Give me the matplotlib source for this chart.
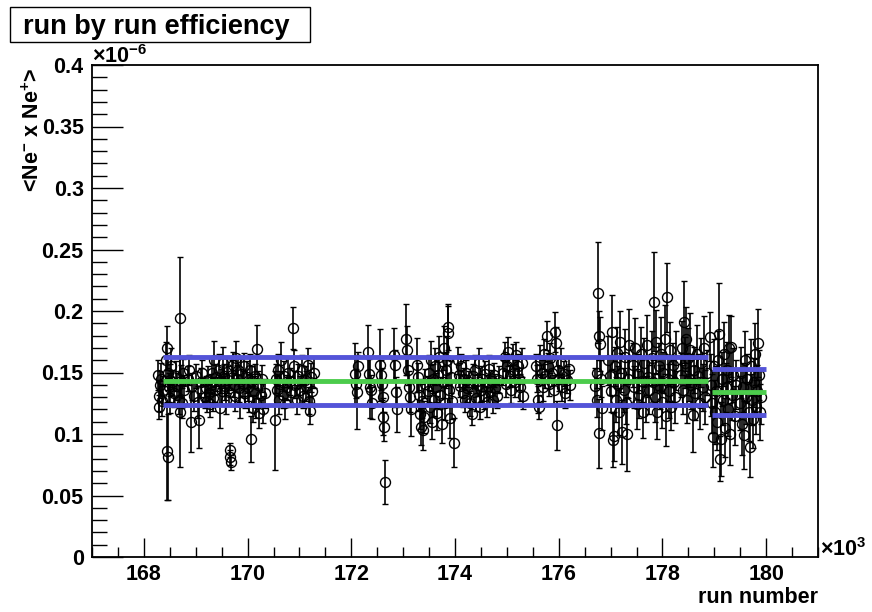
import numpy as np
import matplotlib.pyplot as plt
from matplotlib.patches import Rectangle
from matplotlib.ticker import MultipleLocator

plt.rcParams['font.family'] = ['Liberation Sans', 'DejaVu Sans']
plt.rcParams['font.weight'] = 'bold'
plt.rcParams['mathtext.fontset'] = 'custom'
plt.rcParams['mathtext.rm'] = 'Liberation Sans:bold'
plt.rcParams['mathtext.bf'] = 'Liberation Sans:bold'
plt.rcParams['mathtext.default'] = 'bf'

# run number (x10^3) , efficiency (x10^-6), error
run_a = [168.28, 168.29, 168.30, 168.31, 168.33, 168.35, 168.37, 168.42, 168.44, 168.45,
         168.46, 168.47, 168.48, 168.50, 168.51, 168.53, 168.55, 168.58, 168.62, 168.64,
         168.67, 168.69, 168.70, 168.72, 168.74, 168.76, 168.78, 168.85, 168.88, 168.91,
         168.93, 168.96, 169.00, 169.04, 169.07, 169.10, 169.13, 169.17, 169.19, 169.21,
         169.23, 169.25, 169.27, 169.29, 169.31, 169.33, 169.35, 169.37, 169.40, 169.44,
         169.46, 169.48, 169.50, 169.52, 169.54, 169.56, 169.58, 169.60, 169.62, 169.64,
         169.66, 169.67, 169.68, 169.70, 169.72, 169.74, 169.76, 169.78, 169.80, 169.82,
         169.84, 169.86, 169.88, 169.91, 169.93, 169.95, 169.98, 170.01, 170.03, 170.05,
         170.07, 170.09, 170.11, 170.13, 170.15, 170.17, 170.19, 170.21, 170.23, 170.25,
         170.27, 170.30, 170.33, 170.52, 170.54, 170.56, 170.58, 170.60, 170.63, 170.65,
         170.68, 170.70, 170.73, 170.76, 170.78, 170.81, 170.84, 170.87, 170.89, 170.92,
         170.95, 170.98, 171.01, 171.04, 171.07, 171.10, 171.13, 171.16, 171.19, 171.20,
         171.22, 171.25, 171.28]
eff_a = [0.148, 0.131, 0.122, 0.140, 0.145, 0.127, 0.136, 0.160, 0.170, 0.086,
         0.081, 0.150, 0.138, 0.144, 0.129, 0.155, 0.142, 0.133, 0.147, 0.139,
         0.128, 0.194, 0.118, 0.143, 0.125, 0.150, 0.136, 0.145, 0.152, 0.110,
         0.139, 0.131, 0.147, 0.126, 0.111, 0.142, 0.150, 0.130, 0.137, 0.127,
         0.144, 0.133, 0.124, 0.140, 0.150, 0.129, 0.160, 0.136, 0.146, 0.152,
         0.121, 0.143, 0.135, 0.158, 0.147, 0.139, 0.128, 0.153, 0.144, 0.134,
         0.087, 0.081, 0.077, 0.148, 0.156, 0.140, 0.131, 0.162, 0.145, 0.152,
         0.137, 0.126, 0.149, 0.141, 0.155, 0.133, 0.146, 0.138, 0.128, 0.152,
         0.096, 0.143, 0.121, 0.135, 0.147, 0.125, 0.169, 0.140, 0.117, 0.132,
         0.145, 0.120, 0.133, 0.111, 0.145, 0.136, 0.152, 0.128, 0.141, 0.160,
         0.132, 0.147, 0.125, 0.138, 0.150, 0.143, 0.134, 0.186, 0.155, 0.140,
         0.128, 0.147, 0.136, 0.152, 0.131, 0.144, 0.139, 0.156, 0.127, 0.119,
         0.146, 0.135, 0.150]
err_a = [0.012, 0.012, 0.010, 0.011, 0.013, 0.012, 0.011, 0.015, 0.018, 0.040,
         0.035, 0.014, 0.012, 0.013, 0.012, 0.015, 0.010, 0.011, 0.012, 0.011,
         0.012, 0.050, 0.045, 0.013, 0.012, 0.011, 0.012, 0.010, 0.012, 0.025,
         0.011, 0.012, 0.010, 0.013, 0.022, 0.012, 0.010, 0.009, 0.010, 0.009,
         0.011, 0.010, 0.010, 0.009, 0.012, 0.010, 0.016, 0.010, 0.011, 0.013,
         0.016, 0.010, 0.011, 0.013, 0.010, 0.011, 0.012, 0.010, 0.011, 0.010,
         0.006, 0.006, 0.006, 0.012, 0.011, 0.010, 0.012, 0.014, 0.011, 0.010,
         0.011, 0.013, 0.012, 0.010, 0.011, 0.012, 0.013, 0.011, 0.010, 0.013,
         0.019, 0.012, 0.011, 0.012, 0.010, 0.012, 0.020, 0.011, 0.012, 0.010,
         0.011, 0.011, 0.012, 0.040, 0.012, 0.011, 0.013, 0.012, 0.010, 0.015,
         0.011, 0.012, 0.013, 0.010, 0.012, 0.011, 0.012, 0.017, 0.013, 0.011,
         0.012, 0.010, 0.011, 0.012, 0.010, 0.011, 0.012, 0.014, 0.011, 0.011,
         0.012, 0.010, 0.013]

run_b = [172.07, 172.09, 172.11, 172.13, 172.32, 172.34, 172.36, 172.38, 172.40, 172.55,
         172.57, 172.59, 172.61, 172.62, 172.63, 172.65, 172.82, 172.84, 172.87, 172.89,
         173.05, 173.08, 173.10, 173.12, 173.14, 173.16, 173.26, 173.28, 173.30, 173.32,
         173.34, 173.36, 173.38, 173.40, 173.42, 173.48, 173.50, 173.52, 173.54, 173.56,
         173.58, 173.60, 173.62, 173.64, 173.66, 173.68, 173.70, 173.72, 173.74, 173.76,
         173.78, 173.80, 173.82, 173.84, 173.86, 173.87, 173.89, 173.91, 173.93, 173.95,
         173.98, 174.05, 174.08, 174.10, 174.12, 174.15, 174.18, 174.20, 174.22, 174.24,
         174.27, 174.29, 174.32, 174.34, 174.36, 174.39, 174.41, 174.44, 174.46, 174.48,
         174.51, 174.53, 174.56, 174.58, 174.61, 174.63, 174.66, 174.68, 174.71, 174.73,
         174.76, 174.78, 174.81, 174.84, 174.93, 174.96, 174.98, 175.01, 175.03, 175.06,
         175.08, 175.11, 175.13, 175.16, 175.18, 175.21, 175.24, 175.26, 175.29, 175.32,
         175.57, 175.59, 175.61, 175.62, 175.64, 175.67, 175.69, 175.72, 175.74, 175.77,
         175.79, 175.82, 175.84, 175.87, 175.90, 175.93, 175.95, 175.96, 175.98, 176.01,
         176.04, 176.07, 176.10, 176.13, 176.16, 176.19, 176.21]
eff_b = [0.149, 0.141, 0.134, 0.155, 0.167, 0.149, 0.138, 0.136, 0.125, 0.156,
         0.148, 0.141, 0.130, 0.114, 0.106, 0.061, 0.164, 0.156, 0.134, 0.120,
         0.177, 0.168, 0.152, 0.138, 0.130, 0.120, 0.156, 0.146, 0.132, 0.116,
         0.106, 0.127, 0.103, 0.114, 0.141, 0.135, 0.150, 0.122, 0.160, 0.110,
         0.145, 0.128, 0.155, 0.138, 0.117, 0.148, 0.163, 0.132, 0.108, 0.142,
         0.170, 0.125, 0.152, 0.160, 0.187, 0.182, 0.136, 0.113, 0.146, 0.127,
         0.093, 0.160, 0.148, 0.139, 0.155, 0.133, 0.145, 0.128, 0.150, 0.137,
         0.142, 0.125, 0.116, 0.147, 0.134, 0.152, 0.129, 0.140, 0.158, 0.122,
         0.136, 0.145, 0.131, 0.149, 0.126, 0.139, 0.153, 0.134, 0.143, 0.128,
         0.148, 0.137, 0.131, 0.144, 0.150, 0.163, 0.141, 0.155, 0.167, 0.147,
         0.136, 0.160, 0.152, 0.142, 0.164, 0.155, 0.145, 0.138, 0.158, 0.131,
         0.155, 0.145, 0.128, 0.122, 0.160, 0.150, 0.138, 0.165, 0.147, 0.180,
         0.155, 0.141, 0.162, 0.150, 0.136, 0.183, 0.174, 0.107, 0.152, 0.145,
         0.158, 0.138, 0.149, 0.133, 0.144, 0.153, 0.140]
err_b = [0.025, 0.012, 0.030, 0.012, 0.022, 0.012, 0.025, 0.012, 0.013, 0.029,
         0.012, 0.013, 0.012, 0.015, 0.012, 0.018, 0.022, 0.012, 0.012, 0.018,
         0.029, 0.020, 0.012, 0.013, 0.012, 0.022, 0.022, 0.012, 0.013, 0.012,
         0.015, 0.014, 0.016, 0.013, 0.012, 0.012, 0.014, 0.013, 0.016, 0.014,
         0.012, 0.013, 0.015, 0.012, 0.014, 0.013, 0.017, 0.012, 0.015, 0.013,
         0.018, 0.014, 0.015, 0.020, 0.019, 0.022, 0.014, 0.016, 0.013, 0.015,
         0.020, 0.011, 0.010, 0.009, 0.010, 0.011, 0.009, 0.010, 0.010, 0.011,
         0.009, 0.010, 0.009, 0.010, 0.011, 0.012, 0.010, 0.009, 0.012, 0.010,
         0.009, 0.010, 0.011, 0.010, 0.012, 0.009, 0.011, 0.010, 0.009, 0.011,
         0.010, 0.012, 0.010, 0.011, 0.010, 0.012, 0.011, 0.010, 0.012, 0.009,
         0.011, 0.013, 0.010, 0.012, 0.011, 0.010, 0.009, 0.011, 0.012, 0.011,
         0.010, 0.011, 0.011, 0.010, 0.012, 0.010, 0.011, 0.012, 0.010, 0.012,
         0.011, 0.010, 0.012, 0.011, 0.012, 0.016, 0.013, 0.020, 0.011, 0.010,
         0.012, 0.011, 0.010, 0.012, 0.011, 0.010, 0.012]

run_c = [176.70, 176.73, 176.74, 176.76, 176.77, 176.78, 176.80, 176.82, 176.84, 176.96,
         176.98, 177.00, 177.03, 177.05, 177.06, 177.08, 177.10, 177.12, 177.14, 177.16,
         177.18, 177.20, 177.23, 177.25, 177.27, 177.29, 177.31, 177.33, 177.36, 177.44,
         177.46, 177.48, 177.50, 177.53, 177.55, 177.58, 177.60, 177.63, 177.65, 177.68,
         177.70, 177.73, 177.75, 177.80, 177.82, 177.84, 177.86, 177.88, 177.90, 177.93,
         177.95, 177.97, 178.00, 178.02, 178.04, 178.06, 178.08, 178.10, 178.12, 178.15,
         178.17, 178.20, 178.22, 178.25, 178.27, 178.35, 178.38, 178.40, 178.42, 178.44,
         178.46, 178.48, 178.50, 178.52, 178.54, 178.56, 178.58, 178.60, 178.63, 178.66,
         178.69, 178.72, 178.75, 178.78, 178.81, 178.83, 178.86]
eff_c = [0.139, 0.128, 0.150, 0.215, 0.1005, 0.180, 0.173, 0.145, 0.121, 0.160,
         0.147, 0.135, 0.183, 0.095, 0.098, 0.155, 0.128, 0.166, 0.140, 0.118,
         0.175, 0.150, 0.102, 0.136, 0.163, 0.125, 0.0998, 0.145, 0.172, 0.156,
         0.138, 0.170, 0.124, 0.149, 0.132, 0.165, 0.143, 0.118, 0.158, 0.128,
         0.172, 0.146, 0.136, 0.162, 0.142, 0.2076, 0.130, 0.175, 0.118, 0.155,
         0.138, 0.165, 0.126, 0.150, 0.177, 0.115, 0.211, 0.145, 0.135, 0.168,
         0.122, 0.156, 0.142, 0.130, 0.160, 0.148, 0.170, 0.136, 0.191, 0.158,
         0.177, 0.128, 0.162, 0.145, 0.168, 0.140, 0.1155, 0.152, 0.133, 0.165,
         0.147, 0.125, 0.158, 0.138, 0.170, 0.130, 0.150]
err_c = [0.015, 0.014, 0.013, 0.041, 0.028, 0.020, 0.022, 0.015, 0.018, 0.020,
         0.015, 0.017, 0.030, 0.022, 0.020, 0.016, 0.018, 0.021, 0.015, 0.019,
         0.025, 0.016, 0.026, 0.018, 0.022, 0.017, 0.030, 0.016, 0.030, 0.018,
         0.017, 0.024, 0.020, 0.016, 0.019, 0.022, 0.017, 0.021, 0.020, 0.018,
         0.025, 0.016, 0.020, 0.022, 0.018, 0.040, 0.020, 0.026, 0.022, 0.019,
         0.018, 0.030, 0.021, 0.017, 0.028, 0.025, 0.028, 0.018, 0.022, 0.023,
         0.019, 0.018, 0.020, 0.021, 0.024, 0.018, 0.022, 0.020, 0.033, 0.021,
         0.026, 0.019, 0.024, 0.018, 0.030, 0.020, 0.030, 0.019, 0.022, 0.024,
         0.018, 0.021, 0.020, 0.019, 0.026, 0.022, 0.018]

run_d = [178.92, 178.94, 178.96, 178.98, 179.00, 179.02, 179.04, 179.06, 179.08, 179.10,
         179.11, 179.12, 179.14, 179.16, 179.18, 179.20, 179.22, 179.24, 179.26, 179.28,
         179.30, 179.33, 179.35, 179.37, 179.40, 179.42, 179.50, 179.52, 179.54, 179.56,
         179.58, 179.60, 179.62, 179.64, 179.66, 179.68, 179.70, 179.72, 179.74, 179.76,
         179.78, 179.80, 179.82, 179.85, 179.87, 179.89, 179.91]
eff_d = [0.179, 0.140, 0.125, 0.0978, 0.155, 0.118, 0.135, 0.110, 0.160, 0.181,
         0.080, 0.0957, 0.145, 0.128, 0.165, 0.105, 0.138, 0.152, 0.120, 0.170,
         0.100, 0.171, 0.132, 0.148, 0.115, 0.140, 0.125, 0.150, 0.108, 0.138,
         0.0992, 0.160, 0.130, 0.145, 0.118, 0.0897, 0.155, 0.128, 0.112, 0.142,
         0.165, 0.122, 0.135, 0.174, 0.148, 0.118, 0.130]
err_d = [0.020, 0.025, 0.024, 0.025, 0.022, 0.026, 0.020, 0.023, 0.024, 0.042,
         0.018, 0.030, 0.022, 0.021, 0.026, 0.024, 0.020, 0.023, 0.022, 0.027,
         0.025, 0.025, 0.021, 0.022, 0.024, 0.020, 0.022, 0.021, 0.025, 0.020,
         0.028, 0.024, 0.022, 0.020, 0.024, 0.025, 0.022, 0.021, 0.023, 0.020,
         0.025, 0.022, 0.021, 0.028, 0.020, 0.023, 0.022]

# constant fits: (start, end, mean, sigma)
fit_start = [168.36, 178.95]
fit_end = [178.88, 179.99]
fit_mean = [0.1431, 0.1344]
fit_sigma = [0.0195, 0.0187]

fig = plt.figure(figsize=(8.72, 6.12), dpi=100)
ax = fig.add_axes([92/872, 55/612, 726/872, 492/612])

runs = np.array(run_a + run_b + run_c + run_d)
effs = np.array(eff_a + eff_b + eff_c + eff_d)
errs = np.array(err_a + err_b + err_c + err_d)

ax.errorbar(runs, effs, yerr=errs, fmt='o', mfc='none', mec='black', ms=7.2,
            mew=1.0, ecolor='black', elinewidth=1.2, capsize=2.2, capthick=1.1, zorder=2)

for s, e, m, sg in zip(fit_start, fit_end, fit_mean, fit_sigma):
    ax.plot([s, e], [m + sg, m + sg], color='#5454d8', lw=3.5, solid_capstyle='butt', zorder=3)
    ax.plot([s, e], [m, m], color='#4ccc4c', lw=3.5, solid_capstyle='butt', zorder=3)
    ax.plot([s, e], [m - sg, m - sg], color='#5454d8', lw=3.5, solid_capstyle='butt', zorder=3)

ax.set_xlim(167, 181)
ax.set_ylim(0, 0.4)
ax.xaxis.set_major_locator(MultipleLocator(2))
ax.xaxis.set_minor_locator(MultipleLocator(0.5))
ax.yaxis.set_major_locator(MultipleLocator(0.05))
ax.yaxis.set_minor_locator(MultipleLocator(0.01))
ax.set_xticks([168, 170, 172, 174, 176, 178, 180])
ax.set_xticklabels(['168', '170', '172', '174', '176', '178', '180'])
ax.set_yticks([0, 0.05, 0.1, 0.15, 0.2, 0.25, 0.3, 0.35, 0.4])
ax.set_yticklabels(['0', '0.05', '0.1', '0.15', '0.2', '0.25', '0.3', '0.35', '0.4'])
ax.tick_params(axis='both', which='both', direction='in', top=False, right=False,
               labelsize=15.5, width=1.0)
ax.tick_params(axis='x', which='major', length=14, pad=5)
ax.tick_params(axis='x', which='minor', length=7)
ax.tick_params(axis='y', which='major', length=22, pad=6)
ax.tick_params(axis='y', which='minor', length=11)
for sp in ax.spines.values():
    sp.set_linewidth(1.3)

# ROOT-style axis texts
fig.text(818/872, 1 - 603/612, 'run number', ha='right', va='baseline', fontsize=15.5)
fig.text(33/872, 1 - 68/612, r'<Ne$^{-}$ x Ne$^{+}$>', rotation=90, ha='center',
         va='top', fontsize=15.5)
fig.text(92/872, 1 - 63/612, r'$\times$10$^{-6}$', ha='left', va='baseline', fontsize=15.5)
fig.text(820/872, 1 - 556/612, r'$\times$10$^{3}$', ha='left', va='baseline', fontsize=15.5)

# title box
fig.patches.append(Rectangle((10/872, 1 - 41.5/612), 300/872, 34/612, transform=fig.transFigure,
                             facecolor='white', edgecolor='black', lw=1.0))
fig.text(23/872, 1 - 34/612, 'run by run efficiency', ha='left', va='baseline', fontsize=19.5)

fig.savefig('out.png', dpi=100)
